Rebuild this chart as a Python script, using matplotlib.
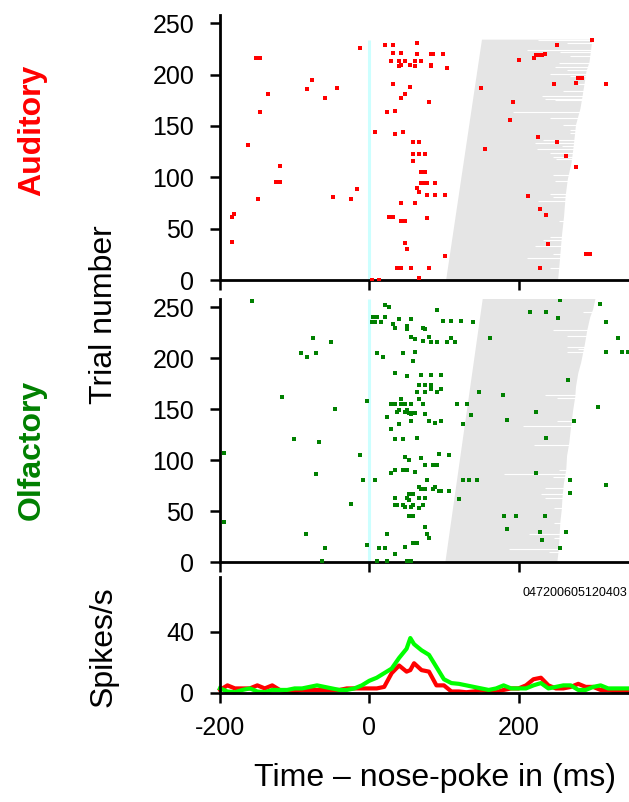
import matplotlib as mpl
import matplotlib.pyplot as plt
import numpy as np

mpl.rcParams['font.family'] = ['Liberation Sans', 'DejaVu Sans']
mpl.rcParams['axes.unicode_minus'] = False

# Auditory trials: spike times (ms) and trial index
aud_ms = [299, -13, 21, 32, 64, 251, -152, -146, 32, 43, 64, 83, 86, 99, 223, 226, 232, 235,
          221, 200, 29, 40, 48, 61, 69, 40, 43, 54, 61, 83, 83, 104, 280, 285, -77, 32, 248,
          277, 317, 54, -43, -83, 150, 48, -136, 43, -59, 80, 192, 24, 35, -146, 189, 8, 35,
          45, 226, 251, 59, 66, -162, 155, 59, 66, 74, 264, 59, 277, -120, 69, 74, -125, -120,
          69, 72, 77, 88, -16, 64, 66, 77, 88, 102, 213, -48, -149, -24, 42, 61, 229, 237,
          -181, -184, 27, 32, 77, 43, 48, -184, 48, 51, 240, 102, 290, 296, 37, 43, 56, 80,
          229, 66, 3, 13]
aud_trial = [234, 226, 229, 229, 231, 229, 216, 216, 221, 221, 220, 220, 220, 220, 219, 219, 219, 220,
             216, 214, 213, 213, 213, 213, 213, 208, 209, 209, 208, 209, 208, 206, 197, 197, 195, 191, 191,
             192, 191, 188, 187, 186, 187, 181, 181, 177, 177, 173, 173, 164, 165, 164, 156, 144, 142,
             144, 139, 134, 134, 134, 131, 128, 123, 123, 123, 121, 116, 110, 111, 105, 105, 95, 95,
             94, 94, 94, 94, 89, 90, 86, 83, 83, 83, 82, 81, 79, 79, 75, 75, 69, 63,
             64, 61, 61, 61, 60, 57, 57, 37, 36, 30, 35, 23, 25, 25, 12, 12, 12, 12,
             12, 2, 0, 0]

# Olfactory trials
olf_ms = [-157, 21, 27, 256, 309, 91, 216, 237, 253, 5, 11, 21, 4, 8, 16, 40, 56, 99, 109, 123,
          139, 317, 32, 35, 50, 50, 72, 74, 56, 61, 80, 109, 162, 333, 72, 83, 91, 104, 115, -75,
          -51, -91, -83, -72, 11, 19, 45, 61, 58, 317, 338, 346, 35, 50, 69, 83, 96, 266, 66, 74,
          83, 83, 96, 64, 74, 91, 147, 179, -117, 42, 66, -3, 29, 35, 42, 48, 56, 72, 118, 131,
          307, -46, 40, 37, 48, 50, 53, 56, 58, 61, 74, 136, 224, 24, 56, 80, 88, 96, 184, 274,
          40, 126, 29, 35, 45, 64, 237, -101, -67, -194, -13, 94, 107, 48, 53, 69, 74, 85, 91, 35,
          29, 45, 50, 61, -72, 224, -8, 8, 77, 126, 134, 144, 269, 317, 66, 69, 74, 85, 88, 94,
          96, 107, 269, 53, 58, 35, 50, 66, 74, 53, 120, -24, 35, 37, 45, 48, 56, 58, 66, 72,
          53, 58, 181, 197, 235, -194, 74, 184, 77, 80, 229, 232, 264, -85, 24, 58, 64, -3, 48, -59,
          13, 21, 256, 35, -64, 11, 24, 50, 53, 56]
olf_trial = [256, 252, 250, 257, 253, 247, 245, 245, 239, 240, 240, 240, 235, 235, 235, 238, 238, 236, 236, 236,
             235, 235, 233, 230, 232, 229, 230, 229, 221, 219, 221, 220, 220, 220, 217, 216, 216, 216, 216, 220,
             216, 205, 201, 205, 205, 201, 205, 206, 197, 206, 206, 206, 185, 182, 183, 183, 183, 179, 174, 174,
             174, 170, 170, 167, 167, 167, 167, 164, 162, 160, 160, 158, 155, 155, 155, 155, 155, 155, 155, 155,
             152, 150, 149, 147, 147, 149, 146, 145, 146, 146, 145, 144, 147, 142, 138, 138, 136, 138, 139, 138,
             135, 135, 130, 121, 121, 122, 122, 121, 118, 107, 105, 106, 105, 103, 100, 102, 95, 95, 95, 90,
             87, 90, 90, 88, 86, 87, 80, 80, 80, 80, 80, 80, 80, 76, 74, 72, 72, 72, 74, 70,
             70, 70, 68, 67, 67, 63, 63, 63, 63, 61, 62, 57, 56, 56, 56, 54, 54, 56, 53, 56,
             45, 45, 45, 45, 45, 39, 34, 32, 27, 24, 29, 22, 29, 27, 27, 19, 19, 17, 15, 14,
             14, 14, 14, 8, 1, 1, 1, 1, 1, 1]

# Grey "port occupancy" region: left edge and right envelope (ms, trial)
aud_left_ms = [103, 151]
aud_left_trial = [0, 234]
aud_right_ms = [299, 295, 291, 286, 283, 277, 274, 271, 266, 263, 261, 258, 255, 253]
aud_right_trial = [234, 212, 203, 180, 167, 151, 131, 114, 98, 81, 62, 42, 16, 0]
# short trials (white notches): trial, end ms
aud_short_trial = [234, 231, 224, 222, 218, 211, 207, 204, 201, 199, 191, 184, 179, 176, 175, 164,
                   158, 151, 146, 143, 136, 133, 130, 128, 124, 120, 118, 102, 96, 84, 81, 77,
                   57, 42, 39, 33, 25, 21, 12]
aud_short_ms = [226, 265, 211, 256, 269, 254, 249, 265, 242, 269, 280, 260, 231, 236, 249, 193,
                242, 260, 269, 269, 233, 222, 258, 225, 242, 246, 250, 246, 249, 242, 246, 226,
                254, 242, 233, 222, 246, 211, 242]

olf_left_ms = [102, 152]
olf_left_trial = [0, 258]
olf_right_ms = [303, 300, 296, 292, 289, 284, 280, 277, 276, 273, 270, 268, 265, 264, 261,
                259, 258, 256, 255, 254, 252]
olf_right_trial = [258, 248, 240, 227, 214, 196, 185, 172, 162, 148, 130, 117, 104, 91, 78,
                   65, 52, 39, 26, 13, 0]
olf_short_trial = [245, 228, 222, 211, 209, 206, 164, 161, 138, 133, 115, 90, 86, 83, 73, 67,
                   63, 53, 38, 27, 24, 13, 10]
olf_short_ms = [286, 246, 265, 265, 280, 265, 236, 251, 251, 206, 221, 254, 181, 246, 236, 230,
                236, 248, 248, 214, 248, 187, 241]

# PSTH (spikes/s), 10 ms steps with extra point at 55 ms
psth_t = [-200, -190, -180, -170, -160, -150, -140, -130, -120, -110, -100, -90, -80, -70, -60,
          -50, -40, -30, -20, -10, 0, 10, 20, 30, 40, 50, 55, 60, 70, 80, 90, 100, 110, 120, 130,
          140, 150, 160, 170, 180, 190, 200, 210, 220, 230, 240, 250, 260, 270, 280, 290, 300,
          310, 320, 330, 340, 350]
psth_aud = [2, 5, 3, 3, 3, 5, 3, 5, 2, 1, 1, 2, 2, 2, 2,
            2, 2, 3, 3, 3, 3, 3, 4, 13, 18, 14, 15, 19.5, 15, 14, 5, 5, 1, 1, 0.5,
            1, 2, 1, 0.5, 2, 3, 3, 5, 9, 10, 5, 3, 3, 4, 6, 4, 4,
            2, 2, 1, 1, 0.5]
psth_olf = [3, 1, 0.5, 2, 3, 1, 0.5, 2, 2, 2, 3, 3, 4, 5, 4,
            3, 2, 2, 3, 5, 8, 10, 13, 16, 23, 29, 36, 32, 28, 25, 17, 9, 6.5, 6, 5,
            4, 3, 2, 3, 5, 3, 3, 3, 5, 6.5, 3, 4, 5, 5, 2, 2, 4,
            5, 3, 3, 3, 3]

W, H = 629, 802
fig = plt.figure(figsize=(W / 100, H / 100), dpi=100)


def px_axes(left, top, right, bottom):
    return fig.add_axes([left / W, 1 - bottom / H, (right - left) / W, (bottom - top) / H])


def style(ax):
    for s in ['top', 'right']:
        ax.spines[s].set_visible(False)
    for s in ['left', 'bottom']:
        ax.spines[s].set_linewidth(2)
    ax.tick_params(direction='out', length=7.5, width=1.8, labelsize=18)
    ax.tick_params(axis='y', pad=11)
    ax.tick_params(axis='x', pad=9)
    ax.set_xlim(-200, 348)
    ax.set_xticks([-200, 0, 200])


def raster(ax, sp_ms, sp_trial, lft_ms, lft_tr, rgt_ms, rgt_tr, sh_tr, sh_ms, n, color):
    xs = list(lft_ms) + list(rgt_ms)
    ys = list(lft_tr) + list(rgt_tr)
    ax.fill(xs, ys, color='#e5e5e5', lw=0, zorder=1)
    ax.hlines(sh_tr, sh_ms, 348, color='white', lw=0.8, zorder=2)
    ax.vlines(0, 0, n, color='#ccffff', lw=2.2, zorder=2)
    ax.scatter(sp_ms, sp_trial, marker='s', s=5.5, color=color, lw=0, zorder=3)
    ax.set_ylim(0, 258)
    ax.set_yticks([0, 50, 100, 150, 200, 250])
    ax.set_xticklabels([])
    style(ax)


ax1 = px_axes(220, 15, 629, 280)
raster(ax1, aud_ms, aud_trial, aud_left_ms, aud_left_trial, aud_right_ms, aud_right_trial,
       aud_short_trial, aud_short_ms, 234, '#ff0000')

ax2 = px_axes(220, 299, 629, 562)
raster(ax2, olf_ms, olf_trial, olf_left_ms, olf_left_trial, olf_right_ms, olf_right_trial,
       olf_short_trial, olf_short_ms, 258, '#008000')

ax3 = px_axes(220, 577, 629, 693)
ax3.plot(psth_t, psth_aud, color='#ff0000', lw=3, solid_joinstyle='round', clip_on=False)
ax3.plot(psth_t, psth_olf, color='#00ff00', lw=3, solid_joinstyle='round', clip_on=False)
ax3.set_ylim(0, 76)
ax3.set_yticks([0, 40])
style(ax3)
ax3.text(0.995, 0.86, '047200605120403', transform=ax3.transAxes, ha='right', va='center', fontsize=9)

fig.text(32 / W, 1 - 130 / H, 'Auditory', color='#ff0000', fontsize=23, fontweight='bold',
         rotation=90, ha='center', va='center')
fig.text(32 / W, 1 - 450 / H, 'Olfactory', color='#008000', fontsize=23, fontweight='bold',
         rotation=90, ha='center', va='center')
fig.text(104 / W, 1 - 315 / H, 'Trial number', fontsize=23, rotation=90, ha='center', va='center')
fig.text(104 / W, 1 - 647 / H, 'Spikes/s', fontsize=23, rotation=90, ha='center', va='center')
fig.text(435 / W, 1 - 778 / H, 'Time \u2013 nose-poke in (ms)', fontsize=23, ha='center', va='center')

fig.savefig('out.png', dpi=100)
